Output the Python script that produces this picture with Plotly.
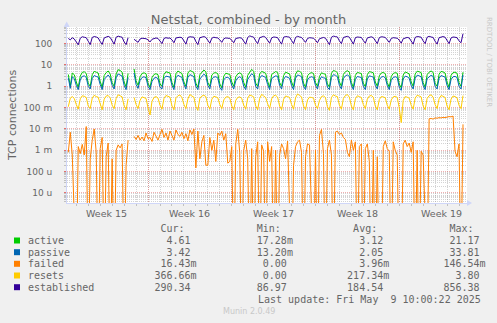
import numpy as np
import pandas as pd
import plotly.graph_objects as go

nan = float("nan")

# ---------------------------------------------------------------- data
# one sample every 4 hours, Apr 6 08:00 .. May 9 08:00 (rows = days, 00h..20h)
SAMPLE_START = "2025-04-06 08:00"
SAMPLE_END = "2025-05-09 08:00"
SAMPLE_STEP = "4h"

active = [
    3.6, 1.0, 4.2, 3.5,               # Apr 6 (08h-20h)
    1.6, 0.9, 3.0, 4.5, 4.8, 4.0,     # Apr 7
    1.4, 1.0, 3.5, 5.0, 4.6, 4.2,     # Apr 8
    1.7, 0.9, 3.2, 4.4, 5.2, 3.8,     # Apr 9
    1.5, 1.0, 3.8, 6.0, 5.5, 4.6,     # Apr 10
    1.6, 0.95, 4.0, nan, nan, 6.5,    # Apr 11
    1.8, 1.1, 2.8, 4.0, 4.3, 3.9,     # Apr 12
    1.4, 0.9, 2.6, 3.6, 3.9, 3.5,     # Apr 13
    1.3, 1.0, 3.6, 4.8, 4.4, 4.2,     # Apr 14
    1.5, 0.9, 3.9, 5.2, 4.5, 4.0,     # Apr 15
    1.6, 1.0, 4.2, 5.5, 5.0, 4.4,     # Apr 16
    1.4, 0.9, 3.5, 4.6, 5.8, 4.8,     # Apr 17
    1.5, 1.0, 3.4, 4.2, 4.4, 3.9,     # Apr 18
    1.3, 0.85, 3.0, 4.1, 4.0, 3.6,    # Apr 19
    1.6, 1.0, 2.8, 3.8, 4.3, 3.7,     # Apr 20
    1.5, 0.9, 3.3, 4.5, 6.2, 5.0,     # Apr 21
    1.4, 1.0, 3.8, 5.0, 4.6, 4.1,     # Apr 22
    1.7, 0.9, 3.6, 4.4, 4.9, 4.5,     # Apr 23
    1.5, 1.0, 3.2, 4.6, 4.2, 3.8,     # Apr 24
    1.6, 0.95, 3.7, 5.3, 5.0, 4.3,    # Apr 25
    1.4, 0.9, 3.1, 4.0, 4.4, 4.0,     # Apr 26
    1.5, 1.0, 2.9, 4.3, 3.9, 3.7,     # Apr 27
    1.3, 0.9, 4.1, 5.5, 5.1, 4.4,     # Apr 28
    1.6, 1.0, 3.6, 4.8, 5.4, 4.6,     # Apr 29
    1.5, 0.9, 3.3, 4.5, 4.2, 4.0,     # Apr 30
    1.4, 0.95, 3.5, 4.9, 4.6, 4.3,    # May 1
    1.6, 1.0, 3.1, 4.2, 4.5, 3.9,     # May 2
    1.5, 0.9, 2.9, 4.0, 4.4, 4.1,     # May 3
    1.3, 0.85, 3.4, 4.7, 4.3, 3.8,    # May 4
    1.6, 1.0, 3.8, 5.1, 4.8, 4.4,     # May 5
    1.5, 0.9, 3.5, 4.6, 5.2, 4.5,     # May 6
    1.4, 1.0, 3.7, 5.0, 4.7, 4.2,     # May 7
    1.6, 0.9, 3.3, 4.4, 4.6, 4.1,     # May 8
    1.5, 1.0, 4.61,                   # May 9 (00h-08h)
]

passive = [
    2.5, 0.8, 2.8, 2.3,               # Apr 6
    1.1, 0.7, 2.0, 2.9, 3.1, 2.6,     # Apr 7
    1.0, 0.75, 2.3, 3.2, 2.9, 2.7,    # Apr 8
    1.2, 0.7, 2.1, 2.8, 3.4, 2.5,     # Apr 9
    1.1, 0.75, 2.5, 3.8, 3.5, 3.0,    # Apr 10
    1.1, 0.7, 2.6, nan, nan, 4.2,     # Apr 11
    1.2, 0.8, 1.9, 2.6, 2.8, 2.5,     # Apr 12
    1.0, 0.7, 1.7, 2.4, 2.6, 2.3,     # Apr 13
    0.9, 0.75, 2.3, 3.0, 2.8, 2.7,    # Apr 14
    1.1, 0.7, 2.5, 3.3, 2.9, 2.6,     # Apr 15
    1.2, 0.75, 2.7, 3.5, 3.2, 2.8,    # Apr 16
    1.0, 0.7, 2.2, 2.9, 3.7, 3.1,     # Apr 17
    1.1, 0.75, 2.2, 2.7, 2.8, 2.5,    # Apr 18
    0.9, 0.65, 2.0, 2.6, 2.6, 2.3,    # Apr 19
    1.1, 0.75, 1.8, 2.5, 2.8, 2.4,    # Apr 20
    1.0, 0.7, 2.1, 2.9, 3.9, 3.2,     # Apr 21
    1.0, 0.75, 2.4, 3.2, 2.9, 2.6,    # Apr 22
    1.2, 0.7, 2.3, 2.8, 3.1, 2.9,     # Apr 23
    1.1, 0.75, 2.1, 2.9, 2.7, 2.4,    # Apr 24
    1.1, 0.7, 2.4, 3.4, 3.2, 2.8,     # Apr 25
    1.0, 0.7, 2.0, 2.6, 2.8, 2.6,     # Apr 26
    1.1, 0.75, 1.9, 2.8, 2.5, 2.4,    # Apr 27
    0.9, 0.7, 2.6, 3.5, 3.3, 2.8,     # Apr 28
    1.1, 0.75, 2.3, 3.1, 3.4, 2.9,    # Apr 29
    1.1, 0.7, 2.1, 2.9, 2.7, 2.6,     # Apr 30
    1.0, 0.7, 2.2, 3.1, 2.9, 2.7,     # May 1
    1.1, 0.75, 2.0, 2.7, 2.9, 2.5,    # May 2
    1.1, 0.7, 1.9, 2.6, 2.8, 2.6,     # May 3
    0.9, 0.65, 2.2, 3.0, 2.8, 2.4,    # May 4
    1.1, 0.75, 2.4, 3.3, 3.1, 2.8,    # May 5
    1.1, 0.7, 2.3, 2.9, 3.3, 2.9,     # May 6
    1.0, 0.75, 2.4, 3.2, 3.0, 2.7,    # May 7
    1.1, 0.7, 2.1, 2.8, 2.9, 2.6,     # May 8
    1.0, 0.75, 3.42,                  # May 9
]

# failed connections, in thousandths (m); 0 means no failures in the interval
failed_milli = [
    0.8, 7.0, 0.6, 0.0,               # Apr 6
    0.0, 1.5, 0.7, 1.9, 0.6, 13.0,    # Apr 7
    0.0, 0.4, 3.0, 10.0, 0.8, 0.0,    # Apr 8
    1.2, 4.0, 0.0, 0.5, 2.2, 0.0,     # Apr 9
    0.4, 0.0, 1.0, 1.8, 1.3, 2.0,     # Apr 10
    0.0, 0.2, 3.0, nan, nan, 4.5,     # Apr 11
    3.2, 5.0, 3.0, 4.2, 2.8, 6.5,     # Apr 12
    3.5, 4.0, 2.6, 7.0, 4.2, 3.0,     # Apr 13
    5.5, 9.5, 4.0, 6.5, 3.0, 8.0,     # Apr 14
    5.0, 3.0, 9.0, 5.5, 4.5, 7.0,     # Apr 15
    3.5, 6.0, 2.8, 9.0, 5.5, 10.0,    # Apr 16
    0.15, 8.0, 0.4, 2.5, 5.0, 0.2,    # Apr 17
    0.2, 4.0, 1.0, 3.0, 0.3, 6.5,     # Apr 18
    5.0, 8.0, 3.0, 6.0, 0.25, 0.3,    # Apr 19
    1.5, 0.0, 2.0, 9.5, 0.8, 0.0,     # Apr 20
    1.0, 3.0, 0.4, 0.0, 1.2, 0.0,     # Apr 21
    0.5, 2.5, 0.0, 1.8, 0.9, 0.0,     # Apr 22
    2.5, 0.3, 1.5, 0.0, 1.0, 0.0,     # Apr 23
    0.6, 2.0, 1.2, 0.4, 2.7, 0.0,     # Apr 24
    0.0, 0.2, 1.5, 2.5, 3.0, 0.8,     # Apr 25
    0.0, 0.5, 2.0, 1.8, 0.0, 0.0,     # Apr 26
    1.0, 0.0, 5.0, 9.5, 0.7, 0.0,     # Apr 27
    1.2, 3.0, 0.6, 0.0, 7.0, 8.0,     # Apr 28
    5.5, 6.5, 4.0, 3.2, 0.8, 0.5,     # Apr 29
    3.0, 1.0, 2.5, 0.0, 1.5, 2.0,     # Apr 30
    0.0, 1.2, 2.0, 0.3, 0.0, 1.0,     # May 1
    0.0, 0.5, 0.0, 0.0, 1.5, 2.8,     # May 2
    1.2, 0.9, 0.0, 2.5, 1.0, 0.6,     # May 3
    0.0, 0.0, 2.0, 3.0, 1.5, 2.2,     # May 4
    0.8, 2.5, 0.0, 1.0, 0.0, 0.9,     # May 5
    0.6, 0.0, 0.0, 30.0, 31.0, 29.0,  # May 6
    33.0, 32.0, 34.0, 33.0, 35.0, 34.0,  # May 7
    36.0, 38.0, 37.0, 40.0, 0.9, 0.5,    # May 8
    2.0, 0.0, 16.43,                     # May 9
]

resets = [
    0.11, 0.28, 0.33, 0.27,                  # Apr 6
    0.14, 0.085, 0.26, 0.36, 0.34, 0.30,     # Apr 7
    0.12, 0.09, 0.28, 0.38, 0.33, 0.31,      # Apr 8
    0.15, 0.08, 0.25, 0.35, 0.37, 0.29,      # Apr 9
    0.13, 0.09, 0.27, 0.40, 0.36, 0.32,      # Apr 10
    0.12, 0.08, 0.26, nan, nan, 0.30,        # Apr 11
    0.14, 0.09, 0.22, 0.32, 0.30, 0.27,      # Apr 12
    0.10, 0.045, 0.20, 0.30, 0.33, 0.28,     # Apr 13
    0.13, 0.085, 0.27, 0.37, 0.34, 0.31,     # Apr 14
    0.12, 0.08, 0.29, 0.36, 0.39, 0.30,      # Apr 15
    0.14, 0.09, 0.26, 0.41, 0.35, 0.31,      # Apr 16
    0.11, 0.075, 0.28, 0.35, 0.38, 0.33,     # Apr 17
    0.13, 0.085, 0.25, 0.34, 0.32, 0.29,     # Apr 18
    0.14, 0.09, 0.23, 0.31, 0.33, 0.28,      # Apr 19
    0.12, 0.08, 0.22, 0.30, 0.32, 0.27,      # Apr 20
    0.13, 0.085, 0.28, 0.39, 0.36, 0.32,     # Apr 21
    0.12, 0.08, 0.27, 0.42, 0.35, 0.30,      # Apr 22
    0.15, 0.09, 0.26, 0.36, 0.38, 0.31,      # Apr 23
    0.12, 0.08, 0.25, 0.35, 0.33, 0.30,      # Apr 24
    0.14, 0.085, 0.29, 0.44, 0.37, 0.32,     # Apr 25
    0.12, 0.08, 0.23, 0.31, 0.30, 0.28,      # Apr 26
    0.13, 0.09, 0.22, 0.33, 0.36, 0.29,      # Apr 27
    0.11, 0.075, 0.30, 0.40, 0.35, 0.33,     # Apr 28
    0.13, 0.085, 0.27, 0.37, 0.41, 0.31,     # Apr 29
    0.12, 0.08, 0.26, 0.36, 0.33, 0.30,      # Apr 30
    0.14, 0.09, 0.25, 0.35, 0.37, 0.31,      # May 1
    0.12, 0.08, 0.24, 0.33, 0.32, 0.29,      # May 2
    0.13, 0.085, 0.23, 0.32, 0.34, 0.30,     # May 3
    0.10, 0.02, 0.22, 0.33, 0.31, 0.28,      # May 4
    0.13, 0.085, 0.28, 0.38, 0.35, 0.32,     # May 5
    0.12, 0.08, 0.27, 0.36, 0.40, 0.31,      # May 6
    0.14, 0.09, 0.26, 0.37, 0.34, 0.30,      # May 7
    0.12, 0.08, 0.25, 0.35, 0.33, 0.29,      # May 8
    0.13, 0.09, 0.36666,                     # May 9
]

established = [
    175, 150, 190, 165,                 # Apr 6
    120, 88, 180, 210, 200, 190,        # Apr 7
    130, 90, 195, 215, 205, 185,        # Apr 8
    125, 92, 185, 205, 220, 195,        # Apr 9
    135, 95, 200, 225, 210, 200,        # Apr 10
    120, 90, 190, nan, nan, 160,        # Apr 11
    140, 115, 165, 180, 175, 170,       # Apr 12
    150, 120, 160, 170, 185, 175,       # Apr 13
    140, 100, 175, 190, 180, 185,       # Apr 14
    150, 110, 185, 195, 200, 190,       # Apr 15
    130, 95, 195, 210, 205, 200,        # Apr 16
    125, 90, 190, 205, 215, 195,        # Apr 17
    140, 105, 180, 200, 190, 185,       # Apr 18
    150, 115, 170, 185, 180, 175,       # Apr 19
    145, 110, 175, 180, 190, 180,       # Apr 20
    130, 95, 195, 230, 215, 200,        # Apr 21
    135, 100, 190, 210, 220, 195,       # Apr 22
    140, 105, 185, 205, 200, 190,       # Apr 23
    130, 95, 200, 215, 210, 200,        # Apr 24
    140, 100, 195, 220, 205, 195,       # Apr 25
    150, 115, 175, 190, 185, 180,       # Apr 26
    145, 110, 170, 185, 195, 180,       # Apr 27
    125, 90, 200, 225, 215, 205,        # Apr 28
    135, 100, 195, 210, 220, 200,       # Apr 29
    130, 95, 190, 205, 200, 195,        # Apr 30
    140, 105, 185, 200, 210, 190,       # May 1
    135, 100, 190, 210, 205, 195,       # May 2
    150, 115, 175, 190, 185, 180,       # May 3
    145, 105, 170, 185, 195, 185,       # May 4
    130, 95, 195, 215, 210, 200,        # May 5
    135, 100, 200, 220, 205, 195,       # May 6
    130, 95, 190, 210, 215, 200,        # May 7
    140, 100, 185, 205, 200, 190,       # May 8
    135, 110, 290.34,                   # May 9
]

SERIES_NAMES = ["active", "passive", "failed", "resets", "established"]
SERIES_COLORS = ["#00CC00", "#0066B3", "#FF8000", "#FFCC00", "#330099"]

# legend statistics
STAT_CUR = [4.61, 3.42, 0.01643, 0.36666, 290.34]
STAT_MIN = [0.01728, 0.01320, 0.0, 0.0, 86.97]
STAT_AVG = [3.12, 2.05, 0.00396, 0.21734, 184.54]
STAT_MAX = [21.17, 33.81, 0.14654, 3.80, 856.38]

Y_TICK_VALUES = [100, 10, 1, 0.1, 0.01, 0.001, 1e-4, 1e-5]
Y_TICK_LABELS = ["100", "10", "1", "100 m", "10 m", "1 m", "100 u", "10 u"]
WEEK_STARTS = ["2025-04-06", "2025-04-13", "2025-04-20", "2025-04-27", "2025-05-04"]
WEEK_LABELS = ["Week 15", "Week 16", "Week 17", "Week 18", "Week 19"]

TITLE = "Netstat, combined - by month"
Y_TITLE = "TCP connections"
LAST_UPDATE = "Last update: Fri May  9 10:00:22 2025"
FOOTER = "Munin 2.0.49"
SIDE_TEXT = "RRDTOOL / TOBI OETIKER"

# ---------------------------------------------------------------- geometry
W, H = 497, 323
ML, MR, MT, MB = 67, 30, 27, 120
PW, PH = W - ML - MR, H - MT - MB
X_RANGE = ["2025-04-06 05:24", "2025-05-09 16:00"]
Y_RANGE = [-5.47, 2.78]

FONT_COLOR = "#666666"
AXIS_COLOR = "#CFD6F8"
GRID_COLOR = "rgba(143,143,143,0.38)"
MGRID_COLOR = "rgba(222,79,79,0.45)"
SANS = "DejaVu Sans"
MONO = "DejaVu Sans Mono"


def px(x):
    return (x - ML) / PW


def py(y):
    return (H - MB - y) / PH


# ---------------------------------------------------------------- traces
times = pd.date_range(SAMPLE_START, SAMPLE_END, freq=SAMPLE_STEP)
series = [
    np.array(active, float),
    np.array(passive, float),
    np.array(failed_milli, float) / 1000.0,
    np.array(resets, float),
    np.array(established, float),
]
for s in series:
    assert len(s) == len(times)

# zero cannot sit on a log axis: send it far below the visible range so
# the line drops to the bottom edge, as rrdtool does
LOG_FLOOR = 1e-9

fig = go.Figure()
for name, color, vals in zip(SERIES_NAMES, SERIES_COLORS, series):
    shown = np.where(np.isnan(vals), np.nan, np.where(vals > 0, vals, LOG_FLOOR))
    fig.add_trace(go.Scatter(
        x=times, y=shown, name=name, mode="lines",
        line=dict(color=color, width=1), connectgaps=False,
        hoverinfo="skip",
    ))

# ---------------------------------------------------------------- axes
days = pd.date_range("2025-04-06", "2025-05-10", freq="1D")
minor_y = [k * 10.0 ** e for e in range(-6, 3) for k in range(2, 10)]

fig.update_xaxes(
    type="date", range=X_RANGE,
    tickmode="array", tickvals=WEEK_STARTS, ticktext=[""] * len(WEEK_STARTS),
    showgrid=True, gridcolor=MGRID_COLOR, griddash="1px,1px", gridwidth=1,
    ticks="outside", ticklen=2, tickcolor="rgba(222,79,79,0.8)",
    minor=dict(tickmode="array", tickvals=list(days), showgrid=True,
               gridcolor=GRID_COLOR, griddash="1px,1px", gridwidth=1,
               ticks="outside", ticklen=2, tickcolor="rgba(143,143,143,0.5)"),
    showline=True, linecolor=AXIS_COLOR, linewidth=1, zeroline=False,
    fixedrange=True,
)
fig.update_yaxes(
    type="log", range=Y_RANGE,
    tickmode="array", tickvals=Y_TICK_VALUES, ticktext=Y_TICK_LABELS,
    tickfont=dict(family=SANS, size=9, color=FONT_COLOR),
    showgrid=True, gridcolor=MGRID_COLOR, griddash="1px,1px", gridwidth=1,
    ticks="outside", ticklen=2, tickcolor="rgba(222,79,79,0.8)",
    ticklabelstandoff=10,
    minor=dict(tickmode="array", tickvals=minor_y, showgrid=True,
               gridcolor=GRID_COLOR, griddash="1px,1px", gridwidth=1,
               ticks="outside", ticklen=2, tickcolor="rgba(143,143,143,0.5)"),
    showline=True, linecolor=AXIS_COLOR, linewidth=1, zeroline=False,
    fixedrange=True,
)

# ---------------------------------------------------------------- decorations
shapes = []
annotations = []

# axis arrows
shapes.append(dict(type="path", xref="paper", yref="paper",
                   path=f"M {px(66.7)},{py(21.5)} L {px(63.7)},{py(27)} L {px(69.7)},{py(27)} Z",
                   fillcolor=AXIS_COLOR, line=dict(width=0)))
shapes.append(dict(type="path", xref="paper", yref="paper",
                   path=f"M {px(472)},{py(203)} L {px(467)},{py(200)} L {px(467)},{py(206)} Z",
                   fillcolor=AXIS_COLOR, line=dict(width=0)))

# week labels, centred in each week
for start, label in zip(WEEK_STARTS, WEEK_LABELS):
    mid = pd.Timestamp(start) + pd.Timedelta(hours=84)
    annotations.append(dict(x=mid, y=0, xref="x", yref="paper", yshift=-10,
                            text=label, showarrow=False, xanchor="center",
                            yanchor="middle",
                            font=dict(family=SANS, size=9.5, color=FONT_COLOR)))

annotations.append(dict(x=px(12), y=py(115), xref="paper", yref="paper",
                        text=Y_TITLE, textangle=-90, showarrow=False,
                        xanchor="center", yanchor="middle",
                        font=dict(family=SANS, size=11, color=FONT_COLOR)))
annotations.append(dict(x=px(489), y=py(62), xref="paper", yref="paper",
                        text=SIDE_TEXT, textangle=90, showarrow=False,
                        xanchor="center", yanchor="middle",
                        font=dict(family=SANS, size=7, color="#C8C8C8")))


def fmt(v):
    if v == 0:
        return "0.00", " "
    if abs(v) < 1:
        return f"{v * 1000:.2f}", "m"
    return f"{v:.2f}", " "


NBSP = "\u00a0"
LEGEND_X = 26
ROW_Y = [240.5, 252.2, 263.8, 275.5, 287.2]
FIELD_END = [26, 42, 58, 74]


def mono(s):
    return s.replace(" ", NBSP)


header = [" "] * 76
for col, word in zip([22, 38, 54, 70], ["Cur:", "Min:", "Avg:", "Max:"]):
    header[col:col + len(word)] = list(word)
annotations.append(dict(x=px(LEGEND_X), y=py(228.8), xref="paper", yref="paper",
                        text=mono("".join(header).rstrip()), showarrow=False,
                        xanchor="left", yanchor="middle",
                        font=dict(family=MONO, size=10, color=FONT_COLOR)))

for i, name in enumerate(SERIES_NAMES):
    line = [" "] * 77
    line[0:len(name)] = list(name)
    for end, v in zip(FIELD_END, [STAT_CUR[i], STAT_MIN[i], STAT_AVG[i], STAT_MAX[i]]):
        num, unit = fmt(v)
        line[end - len(num) + 1:end + 1] = list(num)
        line[end + 1] = unit
    annotations.append(dict(x=px(LEGEND_X), y=py(ROW_Y[i]), xref="paper", yref="paper",
                            text=mono("".join(line).rstrip()), showarrow=False,
                            xanchor="left", yanchor="middle",
                            font=dict(family=MONO, size=10, color=FONT_COLOR)))
    shapes.append(dict(type="rect", xref="paper", yref="paper",
                       x0=px(14), x1=px(20), y0=py(ROW_Y[i] + 3), y1=py(ROW_Y[i] - 3),
                       fillcolor=SERIES_COLORS[i], line=dict(width=0)))

annotations.append(dict(x=px(483), y=py(299.3), xref="paper", yref="paper",
                        text=mono(LAST_UPDATE), showarrow=False,
                        xanchor="right", yanchor="middle",
                        font=dict(family=MONO, size=10, color=FONT_COLOR)))
annotations.append(dict(x=px(248.5), y=py(311.7), xref="paper", yref="paper",
                        text=FOOTER, showarrow=False,
                        xanchor="center", yanchor="middle",
                        font=dict(family=SANS, size=8, color="#C8C8C8")))

fig.update_layout(
    width=W, height=H,
    margin=dict(l=ML, r=MR, t=MT, b=MB, pad=0),
    paper_bgcolor="#F0F0F0", plot_bgcolor="#FFFFFF",
    showlegend=False,
    title=dict(text=TITLE, x=0.5, xref="container", xanchor="center",
               y=1 - 19 / H, yref="container", yanchor="middle",
               font=dict(family=SANS, size=13, color=FONT_COLOR)),
    shapes=shapes, annotations=annotations,
)

fig.write_html("out.html")
